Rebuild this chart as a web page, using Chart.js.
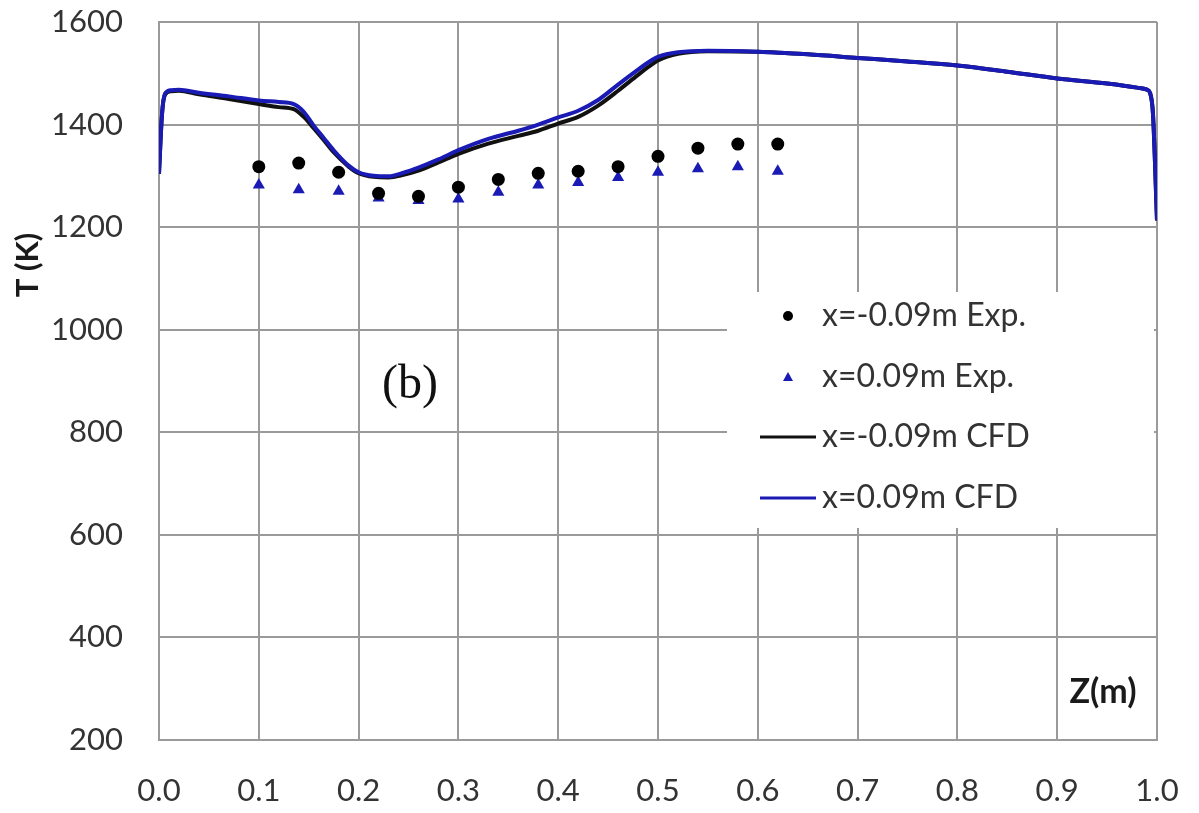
<!DOCTYPE html>
<html>
<head>
<meta charset="utf-8">
<title>T (K) vs Z(m)</title>
<script src="https://cdn.jsdelivr.net/npm/chart.js@4.4.1/dist/chart.umd.min.js"></script>
<style>
  html, body { margin: 0; padding: 0; background: #fff; }
  #wrap { width: 1199px; height: 813px; }
</style>
</head>
<body>
<div id="wrap"><canvas id="myChart" width="1199" height="813"></canvas></div>
<script>
// experimental points
const zExp = [0.10, 0.14, 0.18, 0.22, 0.26, 0.30, 0.34, 0.38, 0.42, 0.46, 0.50, 0.54, 0.58, 0.62]
const tExpNeg = [1318, 1325, 1307, 1266, 1260, 1278, 1293, 1305, 1309, 1318, 1338, 1354, 1362, 1362]
const tExpPos = [1282, 1273, 1270, 1257, 1252, 1255, 1268, 1282, 1287, 1297, 1307, 1314, 1318, 1309]

// CFD profiles
const zCfd = [0, 0.003, 0.006, 0.012, 0.02, 0.04, 0.07, 0.10, 0.12, 0.135, 0.145, 0.155, 0.165, 0.175,
  0.19, 0.20, 0.215, 0.23, 0.245, 0.26, 0.28, 0.30, 0.33, 0.36, 0.38, 0.40, 0.42, 0.44, 0.46, 0.48,
  0.49, 0.50, 0.52, 0.55, 0.60, 0.65, 0.70, 0.75, 0.80, 0.85, 0.90, 0.95, 0.98, 0.99, 0.993, 0.996, 1.0]
const tCfdNeg = [1304, 1420, 1458, 1465, 1466, 1459, 1450, 1440, 1434, 1430, 1415, 1393, 1370, 1346,
  1318, 1305, 1298, 1297, 1302, 1310, 1326, 1343, 1363, 1378, 1388, 1402, 1415, 1437, 1466, 1497,
  1512, 1525, 1538, 1543, 1542, 1537, 1530, 1523, 1515, 1503, 1490, 1480, 1472, 1468, 1462, 1420, 1213]
const tCfdPos = [1304, 1420, 1460, 1467, 1468, 1462, 1455, 1447, 1444, 1440, 1425, 1398, 1374, 1350,
  1320, 1307, 1300, 1299, 1306, 1316, 1332, 1350, 1372, 1388, 1400, 1414, 1427, 1448, 1478, 1507,
  1521, 1532, 1541, 1544, 1542, 1537, 1530, 1523, 1515, 1503, 1490, 1480, 1472, 1468, 1462, 1420, 1213]

const seriesNames = ['x=-0.09m Exp.', 'x=0.09m Exp.', 'x=-0.09m CFD', 'x=0.09m CFD']
const yTicks = [200, 400, 600, 800, 1000, 1200, 1400, 1600]

const BLUE = '#1a1ab4'
const TXT = '#333'
const FONT = 'Lato, "Noto Sans", sans-serif'

const pts = (xs, ys) => xs.map((x, i) => ({ x: x, y: ys[i] }))

// titles, panel label and legend drawn on the canvas
const extras = {
  id: 'extras',
  beforeDatasetsDraw(chart) {
    const ctx = chart.ctx
    ctx.save()
    // legend box hides the grid behind it
    ctx.fillStyle = '#fff'
    ctx.fillRect(727, 292, 427, 236)
    const rowY = [316, 377, 437, 498]
    ctx.font = '32px ' + FONT
    ctx.fillStyle = TXT
    ctx.textBaseline = 'middle'
    ctx.textAlign = 'left'
    seriesNames.forEach((n, i) => ctx.fillText(n, 822, rowY[i]))
    // markers
    ctx.fillStyle = '#000'
    ctx.beginPath(); ctx.arc(788, rowY[0], 5, 0, Math.PI * 2); ctx.fill()
    ctx.fillStyle = BLUE
    ctx.beginPath()
    ctx.moveTo(788, rowY[1] - 5); ctx.lineTo(793, rowY[1] + 4); ctx.lineTo(783, rowY[1] + 4)
    ctx.closePath(); ctx.fill()
    ctx.lineWidth = 3
    ctx.strokeStyle = '#111'
    ctx.beginPath(); ctx.moveTo(760, rowY[2]); ctx.lineTo(816, rowY[2]); ctx.stroke()
    ctx.strokeStyle = BLUE
    ctx.beginPath(); ctx.moveTo(760, rowY[3]); ctx.lineTo(816, rowY[3]); ctx.stroke()

    // axis titles
    ctx.fillStyle = '#1a1a1a'
    ctx.font = 'bold 34px ' + FONT
    ctx.textAlign = 'center'
    ctx.fillText('Z(m)', 1103, 692)
    ctx.translate(28, 265)
    ctx.rotate(-Math.PI / 2)
    ctx.font = 'bold 31px ' + FONT
    ctx.fillText('T (K)', 0, 0)
    ctx.restore()

    ctx.save()
    ctx.fillStyle = '#111'
    ctx.font = '48px "Liberation Serif", "DejaVu Serif", serif'
    ctx.textAlign = 'center'
    ctx.textBaseline = 'middle'
    ctx.fillText('(b)', 410, 385)
    ctx.restore()
  }
}

const ctx = document.getElementById('myChart')
// eslint-disable-next-line no-unused-vars
const myChart = new Chart(ctx, {
  type: 'scatter',
  data: {
    datasets: [{
      label: seriesNames[0],
      data: pts(zExp, tExpNeg),
      pointStyle: 'circle',
      pointRadius: 6.5,
      backgroundColor: '#000',
      borderColor: '#000',
      borderWidth: 0,
      order: 0
    }, {
      label: seriesNames[1],
      data: pts(zExp, tExpPos),
      pointStyle: 'triangle',
      pointRadius: 7,
      backgroundColor: BLUE,
      borderColor: BLUE,
      borderWidth: 0,
      order: 1
    }, {
      label: seriesNames[2],
      data: pts(zCfd, tCfdNeg),
      showLine: true,
      pointRadius: 0,
      borderColor: '#111',
      borderWidth: 4,
      cubicInterpolationMode: 'monotone',
      order: 3
    }, {
      label: seriesNames[3],
      data: pts(zCfd, tCfdPos),
      showLine: true,
      pointRadius: 0,
      borderColor: BLUE,
      borderWidth: 4,
      cubicInterpolationMode: 'monotone',
      order: 2
    }]
  },
  options: {
    responsive: false,
    animation: false,
    layout: { padding: { top: 22, right: 42, left: 0, bottom: 0 } },
    scales: {
      x: {
        type: 'linear',
        min: 0,
        max: 1,
        afterFit: s => { s.height = 73; s.paddingLeft = 0; s.paddingRight = 0 },
        ticks: {
          stepSize: 0.1,
          padding: 32,
          color: TXT,
          font: { family: FONT, size: 31 },
          callback: v => v.toFixed(1)
        },
        grid: { color: '#9a9a9a', lineWidth: 2, drawTicks: false },
        border: { color: '#9a9a9a', width: 2 }
      },
      y: {
        min: yTicks[0],
        max: yTicks[yTicks.length - 1],
        afterFit: s => { s.width = 159; s.paddingTop = 0; s.paddingBottom = 0 },
        afterBuildTicks: s => { s.ticks = yTicks.map(v => ({ value: v })) },
        ticks: {
          padding: 36,
          color: TXT,
          font: { family: FONT, size: 31 },
          callback: v => String(v)
        },
        grid: { color: '#9a9a9a', lineWidth: 2, drawTicks: false },
        border: { color: '#9a9a9a', width: 2 }
      }
    },
    plugins: {
      legend: { display: false },
      tooltip: { enabled: false }
    }
  },
  plugins: [extras]
})
</script>
</body>
</html>
